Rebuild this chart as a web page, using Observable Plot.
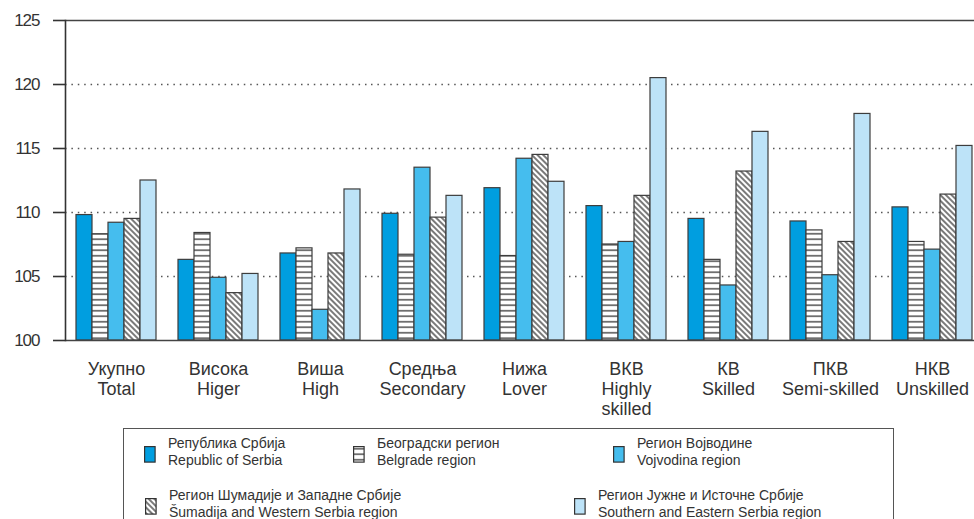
<!DOCTYPE html>
<html><head><meta charset="utf-8">
<script src="https://cdn.jsdelivr.net/npm/d3@7"></script>
<script src="https://cdn.jsdelivr.net/npm/@observablehq/plot@0.6"></script>
<style>
html,body{margin:0;padding:0;background:#fff;overflow:hidden;}
#wrap{position:relative;width:974px;height:519px;overflow:hidden;font-family:"Liberation Sans",Arial,sans-serif;color:#333;}
#legend{position:absolute;left:123px;top:428px;width:771px;height:120px;border:1.3px solid #555;box-sizing:border-box;}
.item{position:absolute;}
.item svg{position:absolute;left:0;top:11px;}
.item .t{position:absolute;left:24px;top:0;font-size:14px;line-height:17px;white-space:nowrap;color:#333;}
#wrap svg [aria-label="y-axis tick label"] text{letter-spacing:-1px;}
</style></head><body>
<svg width="0" height="0" style="position:absolute">
  <defs>
    <pattern id="hstripe" patternUnits="userSpaceOnUse" width="10" height="5.5">
      <rect width="10" height="5.5" fill="#fff"/>
      <line x1="0" x2="10" y1="2.75" y2="2.75" stroke="#333" stroke-width="1.3"/>
    </pattern>
    <pattern id="diag" patternUnits="userSpaceOnUse" width="4" height="10" patternTransform="rotate(-45)">
      <rect width="4" height="10" fill="#fff"/>
      <line x1="2" x2="2" y1="0" y2="10" stroke="#333" stroke-width="1.3"/>
    </pattern>
  </defs>
</svg>
<div id="wrap"><div id="legend"></div></div>
<script>
// categories (Serbian / English)
const categoriesSr = ["Укупно", "Висока", "Виша", "Средња", "Нижа", "ВКВ", "КВ", "ПКВ", "НКВ"];
const categoriesEn = ["Total", "Higer", "High", "Secondary", "Lover", "Highly\nskilled", "Skilled", "Semi-skilled", "Unskilled"];

// series names
const seriesSr = ["Република Србија", "Београдски регион", "Регион Војводине", "Регион Шумадије и Западне Србије", "Регион Јужне и Источне Србије"];
const seriesEn = ["Republic of Serbia", "Belgrade region", "Vojvodina region", "Šumadija and Western Serbia region", "Southern and Eastern Serbia region"];

// values per series (index, 9 categories)
const republic  = [109.8, 106.3, 106.8, 109.9, 111.9, 110.5, 109.5, 109.3, 110.4];
const belgrade  = [108.3, 108.4, 107.2, 106.7, 106.6, 107.5, 106.3, 108.6, 107.7];
const vojvodina = [109.2, 104.9, 102.4, 113.5, 114.2, 107.7, 104.3, 105.1, 107.1];
const sumadija  = [109.5, 103.7, 106.8, 109.6, 114.5, 111.3, 113.2, 107.7, 111.4];
const southern  = [112.5, 105.2, 111.8, 111.3, 112.4, 120.5, 116.3, 117.7, 115.2];

// axis ticks
const yTicks = [100, 105, 110, 115, 120, 125];
const gridTicks = [105, 110, 115, 120];

// styles
const fills = ["#009ee0", "url(#hstripe)", "#45bdee", "url(#diag)", "#bde3f8"];

const values = [republic, belgrade, vojvodina, sumadija, southern];
const table = categoriesSr.flatMap((cat, i) => seriesEn.map((s, j) => ({cat, series: s, value: values[j][i]})));
const labels = categoriesSr.map((cat, i) => ({cat, label: cat + "\n" + categoriesEn[i]}));

const chart = Plot.plot({
  width: 974, height: 425,
  marginTop: 20, marginBottom: 85, marginLeft: 65, marginRight: 0,
  style: {fontFamily: '"Liberation Sans", Arial, sans-serif', color: "#333", background: "transparent", overflow: "visible"},
  fx: {domain: categoriesSr, range: [65, 983], padding: 0, axis: null},
  x: {domain: seriesEn, paddingInner: 0, paddingOuter: 0.61, axis: null},
  y: {domain: [100, 125], axis: null},
  color: {domain: seriesEn, range: fills},
  marks: [
    Plot.ruleY(gridTicks, {stroke: "#555", strokeWidth: 1.4, strokeDasharray: "1.5 4.9"}),
    Plot.barY(table, {fx: "cat", x: "series", y1: 100, y2: "value", fill: "series", stroke: "#3d3d3d", strokeWidth: 1.2}),
    Plot.ruleY([100, 125], {stroke: "#444", strokeWidth: 1.6}),
    Plot.frame({anchor: "left", facetAnchor: "left", stroke: "#333", strokeWidth: 1.6}),
    Plot.axisY({ticks: yTicks, tickSize: 12, tickPadding: 14, fontSize: 17, stroke: "#333", strokeWidth: 1.6, label: null}),
    Plot.text(labels, {fx: "cat", text: "label", frameAnchor: "bottom", lineAnchor: "top", dy: 20, fontSize: 18, lineHeight: 1.12, fill: "#333"})
  ]
});
document.getElementById("wrap").prepend(chart);

// legend
const legendLayout = [
  {left: 20, top: 5.5}, {left: 229, top: 5.5}, {left: 489, top: 5.5},
  {left: 21, top: 57.5}, {left: 450, top: 57.5}
];
const legend = d3.select("#legend");
seriesSr.forEach((name, j) => {
  const item = legend.append("div").attr("class", "item")
    .style("left", legendLayout[j].left + "px").style("top", legendLayout[j].top + "px");
  const sw = item.append("svg").attr("width", 12).attr("height", 17);
  sw.append("rect").attr("x", 0.6).attr("y", 0.6).attr("width", 10.5).attr("height", 15.5)
    .attr("fill", fills[j]).attr("stroke", "#333").attr("stroke-width", 1.2);
  const t = item.append("div").attr("class", "t");
  t.append("div").text(name);
  t.append("div").text(seriesEn[j]);
});
</script>
</body></html>
